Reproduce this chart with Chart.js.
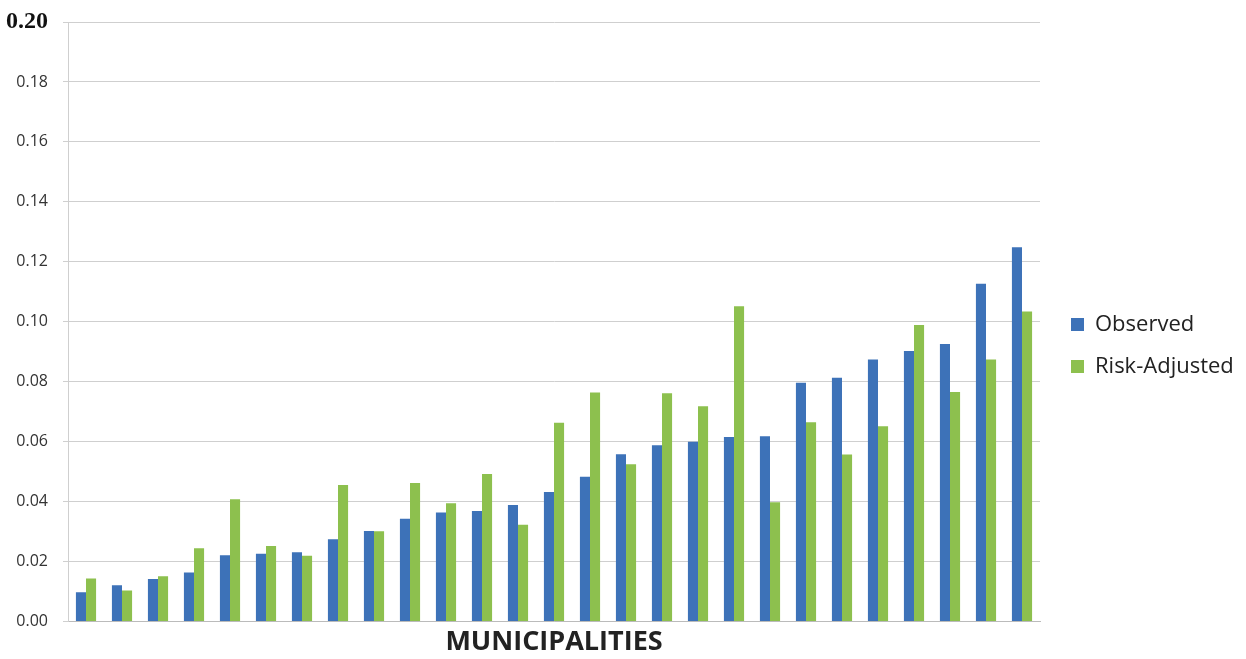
<!DOCTYPE html>
<html>
<head>
<meta charset="utf-8">
<script src="https://cdn.jsdelivr.net/npm/chart.js@4"></script>
<style>
  html, body { margin: 0; padding: 0; background: #fff; }
  #wrap { width: 1246px; height: 659px; }
</style>
</head>
<body>
<div id="wrap"><canvas id="chart" width="1246" height="659"></canvas></div>
<script>
// 27 municipalities, sorted by observed rate
const municipalities = Array.from({ length: 27 }, (_, i) => "M" + (i + 1));

const observed = [
  0.0098, 0.0121, 0.0142, 0.0164, 0.0221, 0.0226, 0.0231, 0.0275, 0.0302,
  0.0343, 0.0364, 0.0369, 0.0389, 0.0432, 0.0483, 0.0558, 0.0588, 0.0600,
  0.0616, 0.0618, 0.0797, 0.0813, 0.0874, 0.0903, 0.0926, 0.1127, 0.1249
];

const riskAdjusted = [
  0.0144, 0.0104, 0.0151, 0.0245, 0.0408, 0.0252, 0.0220, 0.0456, 0.0301,
  0.0462, 0.0395, 0.0492, 0.0323, 0.0663, 0.0764, 0.0525, 0.0762, 0.0718,
  0.1052, 0.0398, 0.0665, 0.0557, 0.0652, 0.0989, 0.0766, 0.0874, 0.1034
];

const seriesNames = ["Observed", "Risk-Adjusted"];
const yTicks = [0, 0.02, 0.04, 0.06, 0.08, 0.10, 0.12, 0.14, 0.16, 0.18, 0.20];

// legend box wider than its content, items nudged right (like the original)
const legendFit = {
  id: "legendFit",
  beforeLayout(chart) {
    const lg = chart.legend;
    if (lg && !lg._wrapped) {
      const fit = lg.fit;
      lg.fit = function () { fit.call(this); this.width = 206; };
      lg._wrapped = true;
    }
  },
  afterLayout(chart) {
    chart.legend.left += 11;
    chart.legend.right += 11;
  }
};

const ctx = document.getElementById("chart").getContext("2d");
new Chart(ctx, {
  type: "bar",
  data: {
    labels: municipalities,
    datasets: [
      { label: seriesNames[0], data: observed, backgroundColor: "#3d72b8" },
      { label: seriesNames[1], data: riskAdjusted, backgroundColor: "#8dc04e" }
    ]
  },
  plugins: [legendFit],
  options: {
    responsive: false,
    animation: false,
    layout: { padding: { top: 22, right: 0, left: 0, bottom: 0 } },
    datasets: { bar: { categoryPercentage: 0.56, barPercentage: 1.0 } },
    plugins: {
      tooltip: { enabled: false },
      legend: {
        position: "right",
        title: { display: true, text: " ", font: { size: 5 }, padding: 2 },
        labels: {
          boxWidth: 13,
          boxHeight: 13,
          padding: 20,
          color: "#222",
          font: { family: "Open Sans", size: 22 }
        }
      }
    },
    scales: {
      x: {
        grid: { display: false, drawTicks: false },
        border: { color: "#bbb" },
        ticks: { display: false },
        title: {
          display: true,
          text: "MUNICIPALITIES",
          color: "#222",
          font: { family: "Open Sans", size: 27, weight: "bold" },
          padding: { top: 5, bottom: 0 }
        }
      },
      y: {
        min: 0,
        max: 0.2,
        afterBuildTicks: (axis) => { axis.ticks = yTicks.map(v => ({ value: v })); },
        afterFit: (axis) => {
          axis.width = 68;
          axis.paddingTop = 0;
          axis.paddingBottom = 0;
        },
        grid: { color: "#cfcfcf", tickLength: 5 },
        border: { color: "#cfcfcf" },
        ticks: {
          padding: 15,
          color: (c) => c.tick && c.tick.value === 0.2 ? "#111" : "#333",
          font: (c) => c.tick && c.tick.value === 0.2
            ? { family: "Liberation Serif", size: 24, weight: "bold" }
            : { family: "Open Sans", size: 16 },
          callback: (v) => Number(v).toFixed(2)
        }
      }
    }
  }
});
</script>
</body>
</html>
